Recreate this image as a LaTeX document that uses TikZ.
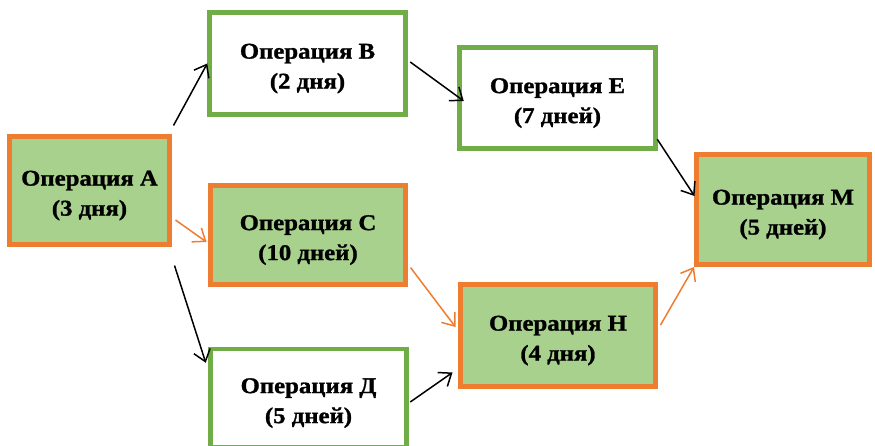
\documentclass[tikz,border=0pt]{standalone}
\usepackage{fontspec}
\setmainfont[FakeStretch=1.1,FakeBold=1.2]{Liberation Serif}
\usetikzlibrary{arrows.meta,calc}
\definecolor{orng}{HTML}{ED7D31}
\definecolor{grn}{HTML}{70AD47}
\definecolor{lgrn}{HTML}{A9D18E}
\newcommand{\topstrut}{\rule{0pt}{25pt}}
\tikzset{
  opbox/.style={draw, rectangle, inner sep=0pt, align=center,
    font=\fontsize{22.5}{30}\selectfont\bfseries},
  crit/.style={opbox, draw=orng, fill=lgrn, line width=5pt},
  norm/.style={opbox, draw=grn, fill=white, line width=4.5pt},
  arr/.style={line width=1.5pt, -{Straight Barb[length=11pt,width=17pt,line width=1.5pt]}},
  karr/.style={arr, draw=black},
  oarr/.style={arr, draw=orng}
}
\begin{document}
\begin{tikzpicture}[x=1pt,y=-1pt]
\useasboundingbox (0,0) rectangle (875,446);
\clip (0,0) rectangle (875,446);
\node[crit, minimum width=160pt, minimum height=108pt] (A) at (89.5,190.5) {\topstrut Операция А\\(3 дня)};
\node[norm, minimum width=196pt, minimum height=102pt] (B) at (307.5,63.5) {\topstrut Операция В\\(2 дня)};
\node[crit, minimum width=195pt, minimum height=99pt] (C) at (308,235) {\topstrut Операция С\\(10 дней)};
\node[norm, minimum width=196pt, minimum height=98pt] (D) at (308.5,398) {\topstrut Операция Д\\(5 дней)};
\node[norm, minimum width=196pt, minimum height=101pt] (E) at (557.5,98) {\topstrut Операция Е\\(7 дней)};
\node[crit, minimum width=195pt, minimum height=102pt] (H) at (558,335.5) {\topstrut Операция Н\\(4 дня)};
\node[crit, minimum width=173pt, minimum height=110pt] (M) at (783,209.5) {\topstrut Операция М\\(5 дней)};
\draw[karr] ($(A.north east)+(1.5,-8.5)$) -- (B.west);
\draw[karr] ($(B.east)+(2.5,-1.5)$) -- ($(E.west)+(6.5,3)$);
\draw[oarr] ($(A.east)+(3.5,29.5)$) -- ($(C.west)+(-1.5,7)$);
\draw[karr] ($(A.south east)+(2.5,18.5)$) -- ($(D.north west)+(-2.5,16)$);
\draw[oarr] ($(C.south east)+(2.5,-19.5)$) -- ($(H.west)+(-2.5,-8.5)$);
\draw[karr] ($(D.east)+(1.5,4)$) -- ($(H.south west)+(-5.5,-16.5)$);
\draw[karr] ($(E.south east)+(-0.5,-11.5)$) -- ($(M.west)+(0.5,-13.5)$);
\draw[oarr] ($(H.east)+(2.5,-10.5)$) -- (M.south west);
\end{tikzpicture}
\end{document}
